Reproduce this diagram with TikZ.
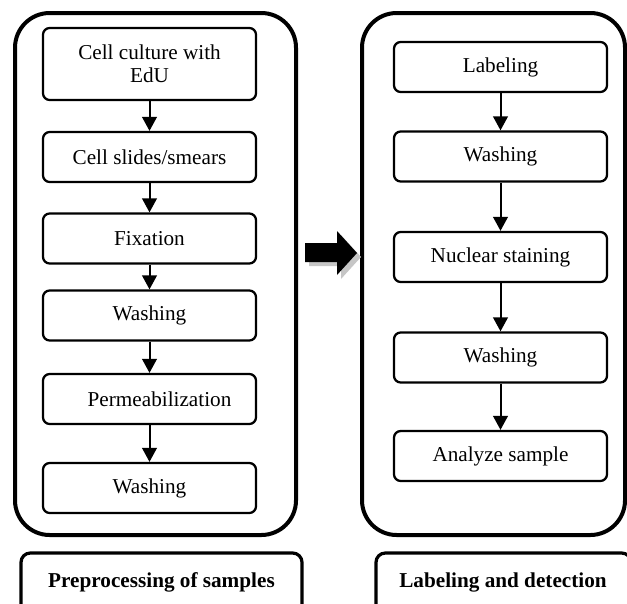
\documentclass[tikz,border=0pt]{standalone}
\usepackage{fontspec}
\setmainfont{Liberation Serif}
\usetikzlibrary{arrows.meta}

\begin{document}
\begin{tikzpicture}[x=0.75pt,y=-0.75pt,
    stepbox/.style={draw, line width=1.7pt, rounded corners=5pt, minimum width=159.75pt,
        minimum height=37.5pt, inner sep=0pt, align=center, font=\fontsize{15.9}{17.3}\selectfont},
    flow/.style={line width=1.5pt, -{Triangle[width=11pt,length=10.5pt]}},
    panel/.style={line width=3pt, rounded corners=26pt},
    tagbox/.style={line width=2.4pt, rounded corners=7pt},
    caption/.style={anchor=base, font=\fontsize{15.9}{17.3}\selectfont\bfseries}]
    \useasboundingbox (0,0) rectangle (627,603);

    % Draw the two panels
    \draw[panel] (15,13) rectangle (296,535);
    \draw[panel] (362,13) rectangle (625,535);

    % Preprocessing steps
    \node[stepbox, minimum height=54pt] (cult) at (149.5,64) {Cell culture with\\EdU};
    \node[stepbox] (slide) at (149.5,157) {Cell slides/smears};
    \node[stepbox] (fix) at (149.5,238.5) {Fixation};
    \node[stepbox] (washA) at (149.5,315.5) {Washing};
    \node[stepbox] (perm) at (149.5,399) {\hspace*{15pt}Permeabilization};
    \node[stepbox] (washB) at (149.5,488) {Washing};

    % Labeling and detection steps
    \node[stepbox] (label) at (500.5,67) {Labeling};
    \node[stepbox] (washC) at (500.5,156.5) {Washing};
    \node[stepbox] (stain) at (500.5,257) {Nuclear staining};
    \node[stepbox] (washD) at (500.5,357.5) {Washing};
    \node[stepbox] (analyze) at (500.5,456) {Analyze sample};

    % Add the flow arrows
    \draw[flow] (cult) -- (slide);
    \draw[flow] (slide) -- (fix);
    \draw[flow] (fix) -- (washA);
    \draw[flow] (washA) -- (perm);
    \draw[flow] (perm) -- (washB);
    \draw[flow] (label) -- (washC);
    \draw[flow] (washC) -- (stain);
    \draw[flow] (stain) -- (washD);
    \draw[flow] (washD) -- (analyze);

    % Big arrow between the panels, with its shadow
    \fill[gray!45] (309,247) -- (341,247) -- (341,235) -- (361,257) -- (341,279) -- (341,266) -- (309,266) -- cycle;
    \fill[black] (305,243) -- (337,243) -- (337,231) -- (357,253) -- (337,275) -- (337,262) -- (305,262) -- cycle;

    % Captions under the panels
    \draw[tagbox] (21,615) -- (21,553) -- (302,553) -- (302,615);
    \node[caption] (pre) at (161.5,587) {Preprocessing of samples};
    \draw[tagbox] (376,615) -- (376,553) -- (631,553) -- (631,615);
    \node[caption] (det) at (503,587) {Labeling and detection};
\end{tikzpicture}
\end{document}
